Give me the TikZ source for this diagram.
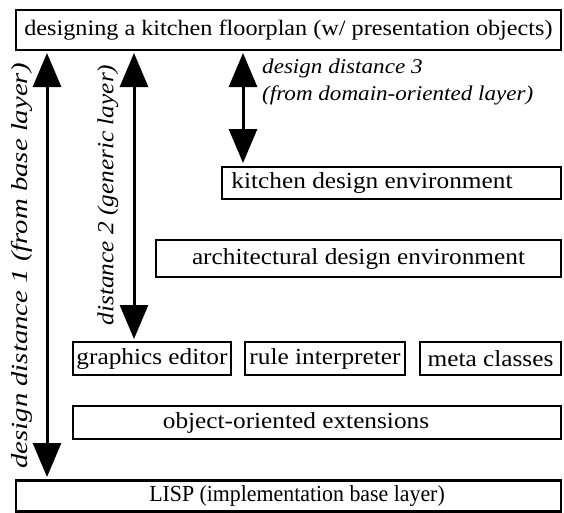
\documentclass[tikz,border=0pt]{standalone}
\usepackage{fontspec}
\setmainfont{Liberation Serif}[FakeStretch=1.1]
\newfontfamily\narrowserif{Liberation Serif}[FakeStretch=0.95]
\newfontfamily\wideserif{Liberation Serif}[FakeStretch=1.25]
\usetikzlibrary{arrows.meta}
\begin{document}
\begin{tikzpicture}[x=1pt,y=-1pt,
  box/.style={draw, line width=2.5pt, inner sep=0pt, font=\fontsize{23}{27}\selectfont},
  darr/.style={line width=3pt, {Triangle[width=28pt,length=34pt]}-{Triangle[width=28pt,length=34pt]}},
  lab/.style={font=\fontsize{21}{27}\selectfont\itshape, inner sep=0pt}]
\useasboundingbox (0,0) rectangle (564,512);
\node[box, minimum width=545pt, minimum height=40pt, font=\fontsize{22}{26}\selectfont] (top) at (288.5,30) {designing a kitchen floorplan (w/ presentation objects)};
\node[box, minimum width=339pt, minimum height=32pt] (kde) at (391.5,183) {kitchen design environment\hspace*{39pt}};
\node[box, minimum width=405pt, minimum height=37pt] (ade) at (358.5,258.5) {architectural design environment};
\node[box, minimum width=158pt, minimum height=33pt] (ge) at (152,358.5) {graphics editor};
\node[box, minimum width=160pt, minimum height=33pt] (ri) at (325,358.5) {rule interpreter};
\node[box, minimum width=141pt, minimum height=33pt] (mc) at (490.5,358.5) {meta classes};
\node[box, minimum width=488pt, minimum height=33pt] (oo) at (317,422.5) {object-oriented extensions\hspace*{42pt}};
\node[box, minimum width=545pt, minimum height=31pt, font=\narrowserif\fontsize{23}{27}\selectfont] (lisp) at (288.5,496) {\hspace*{17pt}LISP (implementation base layer)};
\coordinate (a1t) at (47,53);
\coordinate (a1b) at (47,477);
\coordinate (a2t) at (134,53);
\coordinate (a2b) at (134,339);
\coordinate (a3t) at (243,53);
\coordinate (a3b) at (243,163);
\draw[darr] (a1t) -- (a1b);
\draw[darr] (a2t) -- (a2b);
\draw[darr] (a3t) -- (a3b);
\node[lab, rotate=90, font=\wideserif\fontsize{23}{27}\selectfont\itshape] (l1) at (22,266) {design distance 1 (from base layer)};
\node[lab, rotate=90, font=\fontsize{23}{27}\selectfont\itshape] (l2) at (108,195) {distance 2 (generic layer)};
\node[lab, anchor=north west, align=left] (l3) at (262,59) {design distance 3\\(from domain-oriented layer)};
\end{tikzpicture}
\end{document}
